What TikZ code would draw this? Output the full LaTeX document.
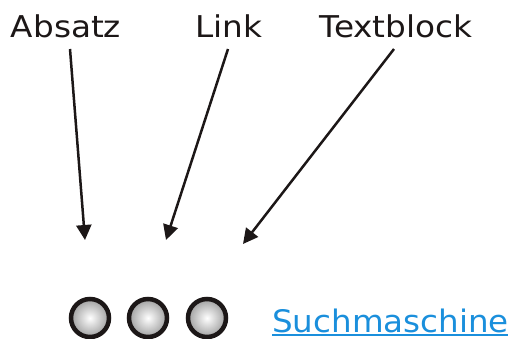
\documentclass[tikz,border=0pt]{standalone}
\usepackage{fontspec}
\setmainfont{DejaVu Sans}
\newfontfamily\lblfont[FakeStretch=1.09]{DejaVu Sans}
\newfontfamily\linkfont[FakeStretch=1.05]{DejaVu Sans}
\usetikzlibrary{arrows.meta}
\definecolor{linkblue}{HTML}{1A8FDC}
\definecolor{ink}{HTML}{1C1717}
\tikzset{
  lbl/.style={font=\lblfont\fontsize{30}{34}\selectfont, anchor=base, inner sep=0pt, text=ink},
  ptr/.style={draw=ink, line width=2.5pt, -{Triangle[length=15pt,width=15pt]}},
  btn/.style={circle, minimum size=38pt, inner sep=0pt, draw=ink, line width=4.5pt, inner color=white, outer color=gray!75}
}
\begin{document}
\begin{tikzpicture}[x=1pt,y=-1pt]
\useasboundingbox (0,0) rectangle (512,338);
\node[lbl] (absatz) at (66,37) {Absatz};
\node[lbl] (link) at (229,37) {Link};
\node[lbl] (textblock) at (396,37) {Textblock};
\coordinate (pA) at (85,240);
\coordinate (pL) at (166,240);
\coordinate (pT) at (243,244);
\draw[ptr] (70,49) -- (pA);
\draw[ptr] (228,49) -- (pL);
\draw[ptr] (394,49) -- (pT);
\node[btn] (b1) at (90,318) {};
\node[btn] (b2) at (148,318) {};
\node[btn] (b3) at (207,318) {};
\node[font=\linkfont\fontsize{31}{34}\selectfont, anchor=base west, inner sep=0pt, text=linkblue] (such) at (272,332) {Suchmaschine};
\draw[linkblue, line width=2pt] (such.base west) ++(0,3) -- (508,335);
\end{tikzpicture}
\end{document}
